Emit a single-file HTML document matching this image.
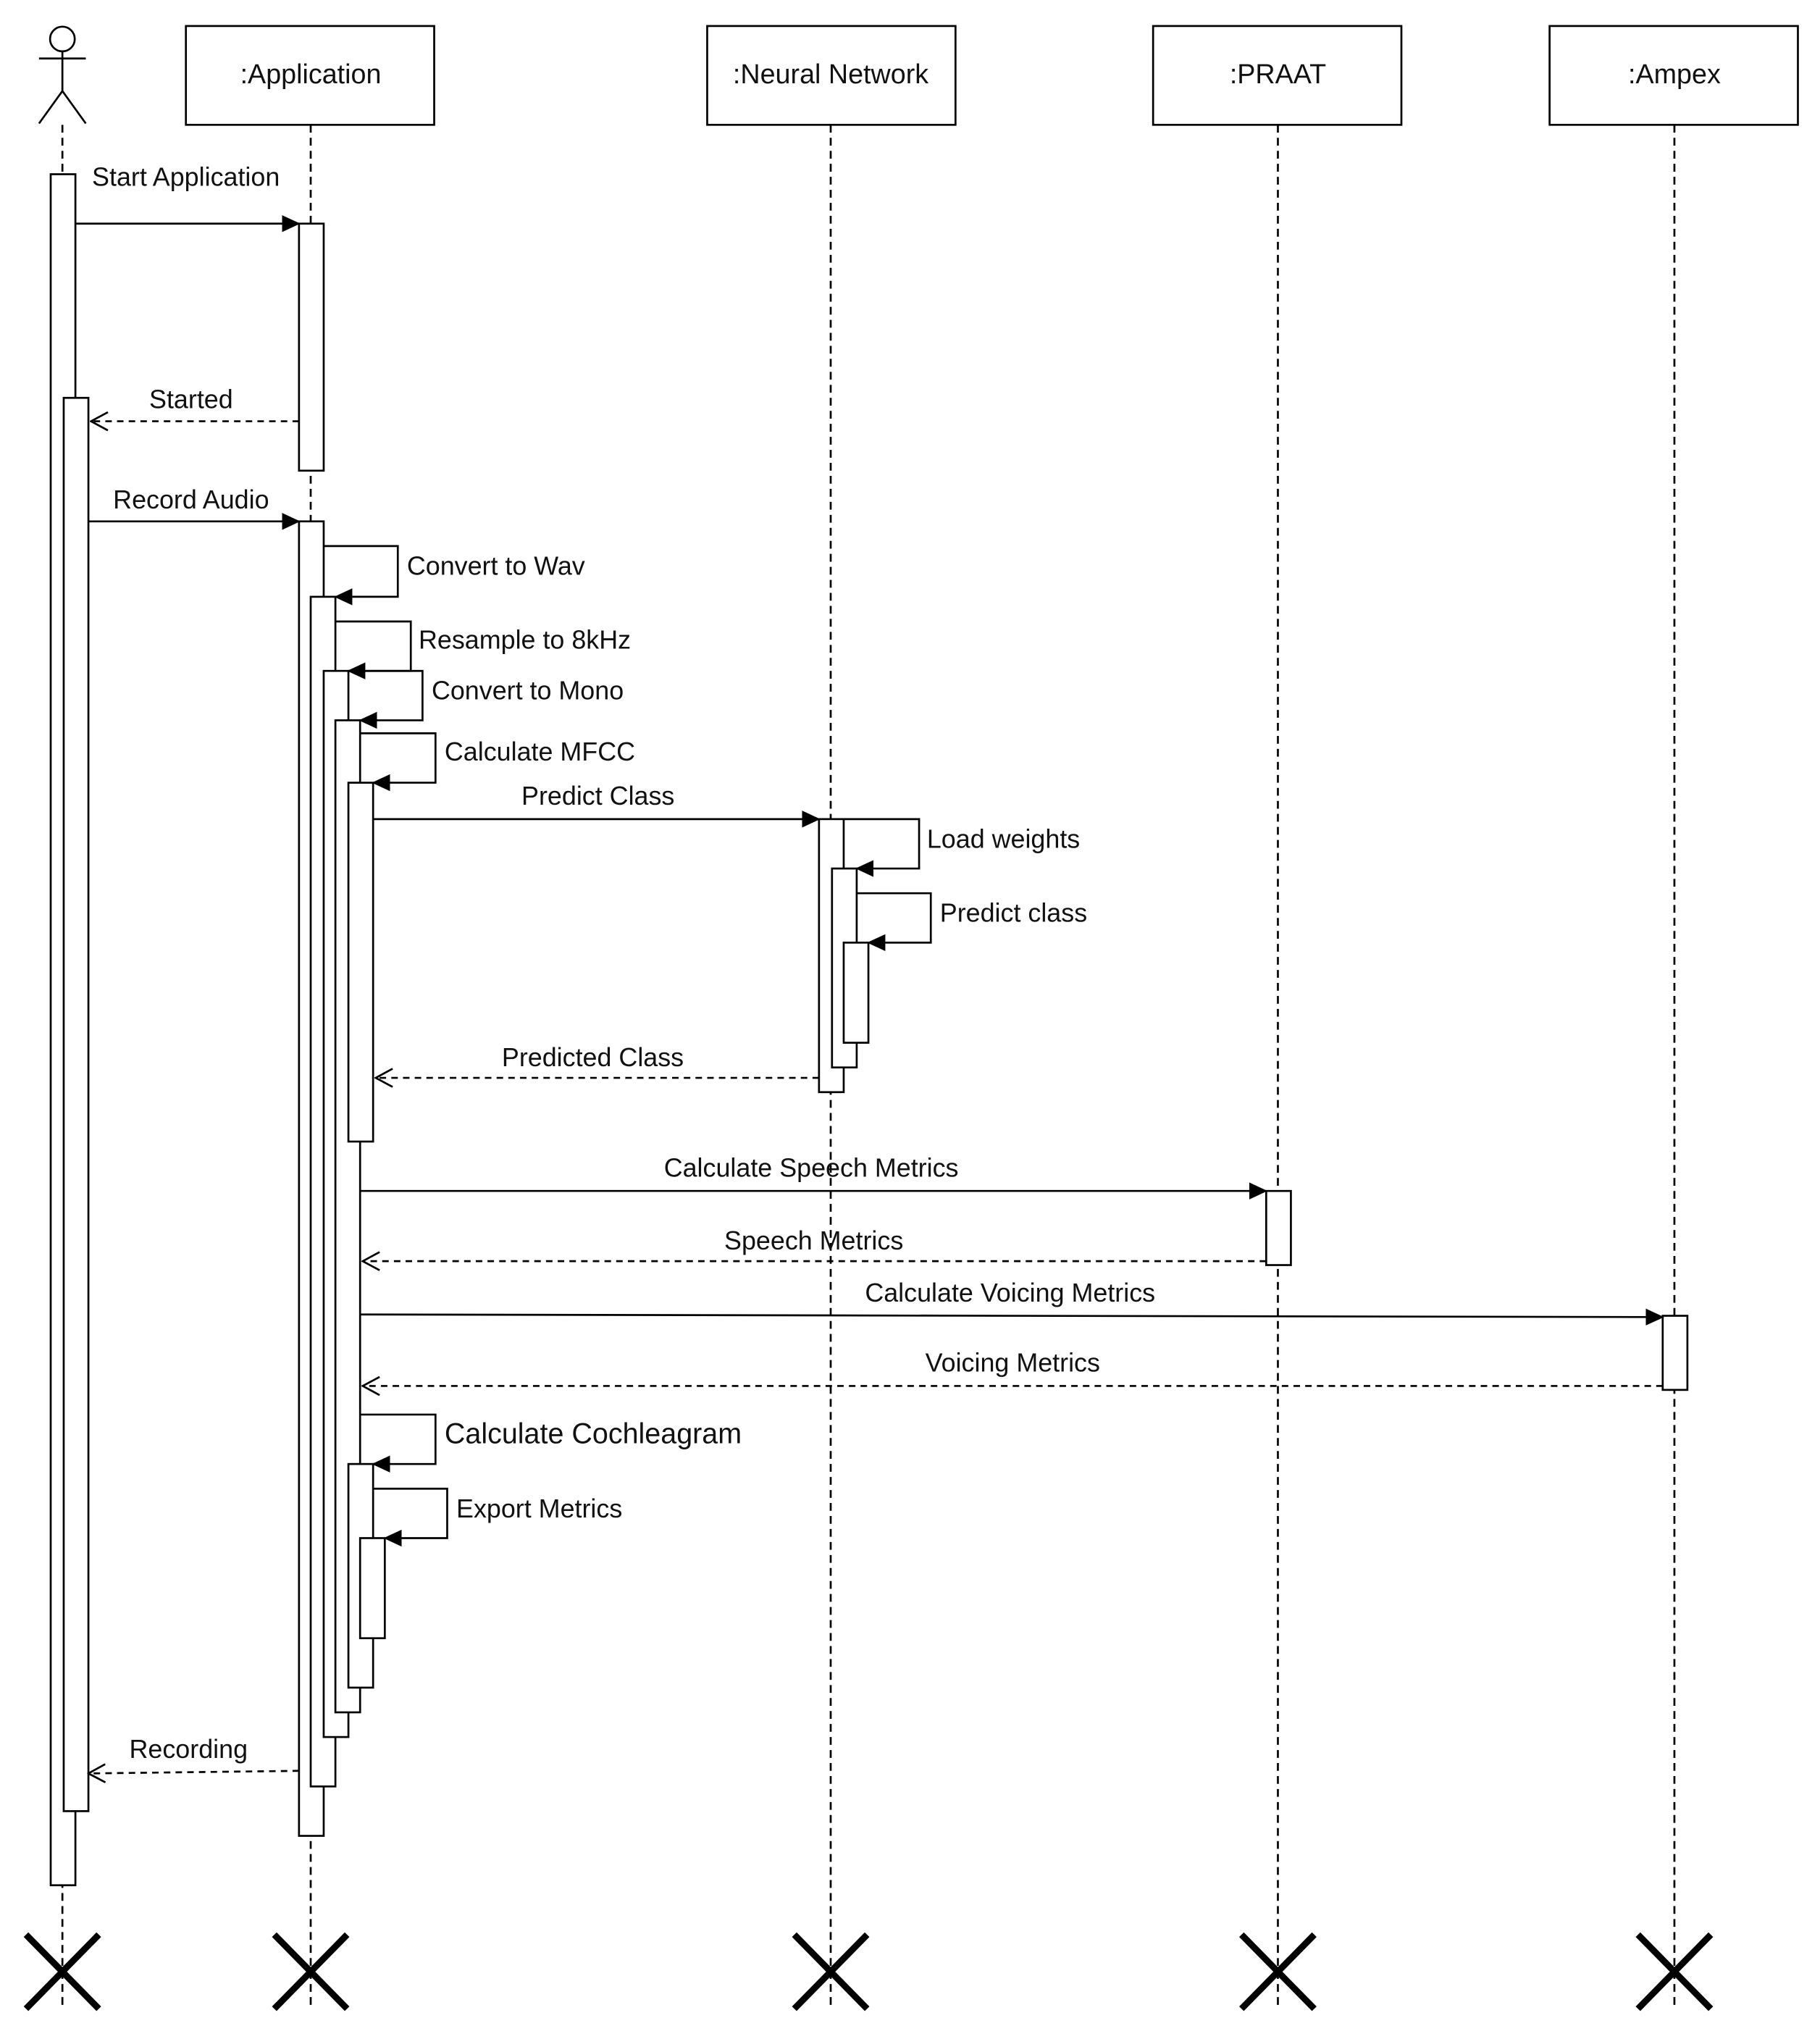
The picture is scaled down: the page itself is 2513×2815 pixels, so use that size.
<!DOCTYPE html>
<html><head><meta charset="utf-8"><style>html,body{margin:0;padding:0;background:#fff}svg{display:block}text{font-family:"Liberation Sans",sans-serif;fill:#111}</style></head><body>
<svg width="2513" height="2815" viewBox="0 0 1400 1568.25" xmlns="http://www.w3.org/2000/svg">
<defs>
<marker id="f" markerWidth="14" markerHeight="14" refX="13" refY="7" orient="auto" markerUnits="userSpaceOnUse"><path d="M0,0.5 L14,7 L0,13.5 z" fill="#000"/></marker>
<marker id="o" markerWidth="16" markerHeight="18" refX="15" refY="9" orient="auto" markerUnits="userSpaceOnUse"><path d="M2,2 L15,9 L2,16" fill="none" stroke="#000" stroke-width="1.5"/></marker>
</defs>
<rect width="1400" height="1569" fill="#fff"/>
<g stroke="#000" stroke-width="1.5" fill="none">
<circle cx="48" cy="30" r="9.5"/>
<line x1="48" y1="40" x2="48" y2="70"/><line x1="30" y1="45" x2="66" y2="45"/>
<line x1="48" y1="70" x2="30" y2="95"/><line x1="48" y1="70" x2="66" y2="95"/>
<rect x="143" y="20" width="191" height="76" fill="#fff"/>
<rect x="544" y="20" width="191" height="76" fill="#fff"/>
<rect x="887" y="20" width="191" height="76" fill="#fff"/>
<rect x="1192" y="20" width="191" height="76" fill="#fff"/>
<g stroke-dasharray="6,4">
<line x1="48" y1="96" x2="48" y2="1545"/><line x1="239" y1="96" x2="239" y2="1545"/>
<line x1="639" y1="96" x2="639" y2="1545"/><line x1="983" y1="96" x2="983" y2="1545"/>
<line x1="1288" y1="96" x2="1288" y2="1545"/>
</g>
<g stroke-width="5">
<path d="M20,1488 L76,1545 M76,1488 L20,1545"/>
<path d="M211,1488 L267,1545 M267,1488 L211,1545"/>
<path d="M611,1488 L667,1545 M667,1488 L611,1545"/>
<path d="M955,1488 L1011,1545 M1011,1488 L955,1545"/>
<path d="M1260,1488 L1316,1545 M1316,1488 L1260,1545"/>
</g>
<g fill="#fff">
<rect x="39" y="134" width="19" height="1316"/>
<rect x="49" y="306" width="19" height="1087"/>
<rect x="230" y="172" width="19" height="190"/>
<rect x="230" y="401" width="19" height="1011"/>
<rect x="239" y="459" width="19" height="915"/>
<rect x="249" y="516" width="19" height="820"/>
<rect x="258" y="554" width="19" height="763"/>
<rect x="268" y="602" width="19" height="276"/>
<rect x="268" y="1126" width="19" height="172"/>
<rect x="277" y="1183" width="19" height="77"/>
<rect x="630" y="630" width="19" height="210"/>
<rect x="640" y="668" width="19" height="153"/>
<rect x="649" y="725" width="19" height="77"/>
<rect x="974" y="916" width="19" height="57"/>
<rect x="1279" y="1012" width="19" height="57"/>
</g>
<line x1="58" y1="172" x2="230" y2="172" marker-end="url(#f)"/>
<line x1="230" y1="324" x2="70" y2="324" stroke-dasharray="5,4" marker-end="url(#o)"/>
<line x1="68" y1="401" x2="230" y2="401" marker-end="url(#f)"/>
<polyline points="249,420 306,420 306,459 258,459" marker-end="url(#f)"/>
<polyline points="258,478 316,478 316,516 268,516" marker-end="url(#f)"/>
<polyline points="268,516 325,516 325,554 277,554" marker-end="url(#f)"/>
<polyline points="277,564 335,564 335,602 287,602" marker-end="url(#f)"/>
<line x1="287" y1="630" x2="630" y2="630" marker-end="url(#f)"/>
<polyline points="649,630 707,630 707,668 659,668" marker-end="url(#f)"/>
<polyline points="659,687 716,687 716,725 668,725" marker-end="url(#f)"/>
<line x1="630" y1="829" x2="289" y2="829" stroke-dasharray="5,4" marker-end="url(#o)"/>
<line x1="277" y1="916" x2="974" y2="916" marker-end="url(#f)"/>
<line x1="974" y1="970" x2="279" y2="970" stroke-dasharray="5,4" marker-end="url(#o)"/>
<line x1="277" y1="1011" x2="1279" y2="1013" marker-end="url(#f)"/>
<line x1="1279" y1="1066" x2="279" y2="1066" stroke-dasharray="5,4" marker-end="url(#o)"/>
<polyline points="277,1088 335,1088 335,1126 287,1126" marker-end="url(#f)"/>
<polyline points="287,1145 344,1145 344,1183 296,1183" marker-end="url(#f)"/>
<line x1="230" y1="1362" x2="68" y2="1364" stroke-dasharray="5,4" marker-end="url(#o)"/>
</g>
<g font-size="21" text-anchor="middle">
<text x="239" y="64">:Application</text>
<text x="639" y="64">:Neural Network</text>
<text x="983" y="64">:PRAAT</text>
<text x="1288" y="64">:Ampex</text>
</g>
<g font-size="20" text-anchor="middle">
<text x="143" y="143">Start Application</text>
<text x="147" y="314">Started</text>
<text x="147" y="391">Record Audio</text>
<text x="460" y="619">Predict Class</text>
<text x="456" y="820">Predicted Class</text>
<text x="624" y="905">Calculate Speech Metrics</text>
<text x="626" y="961">Speech Metrics</text>
<text x="777" y="1001">Calculate Voicing Metrics</text>
<text x="779" y="1055">Voicing Metrics</text>
<text x="145" y="1352">Recording</text>
</g>
<g font-size="20">
<text x="313" y="442">Convert to Wav</text>
<text x="322" y="499">Resample to 8kHz</text>
<text x="332" y="538">Convert to Mono</text>
<text x="342" y="585">Calculate MFCC</text>
<text x="713" y="652">Load weights</text>
<text x="723" y="709">Predict class</text>
<text x="342" y="1110" font-size="22">Calculate Cochleagram</text>
<text x="351" y="1167">Export Metrics</text>
</g>
</svg>
</body></html>
